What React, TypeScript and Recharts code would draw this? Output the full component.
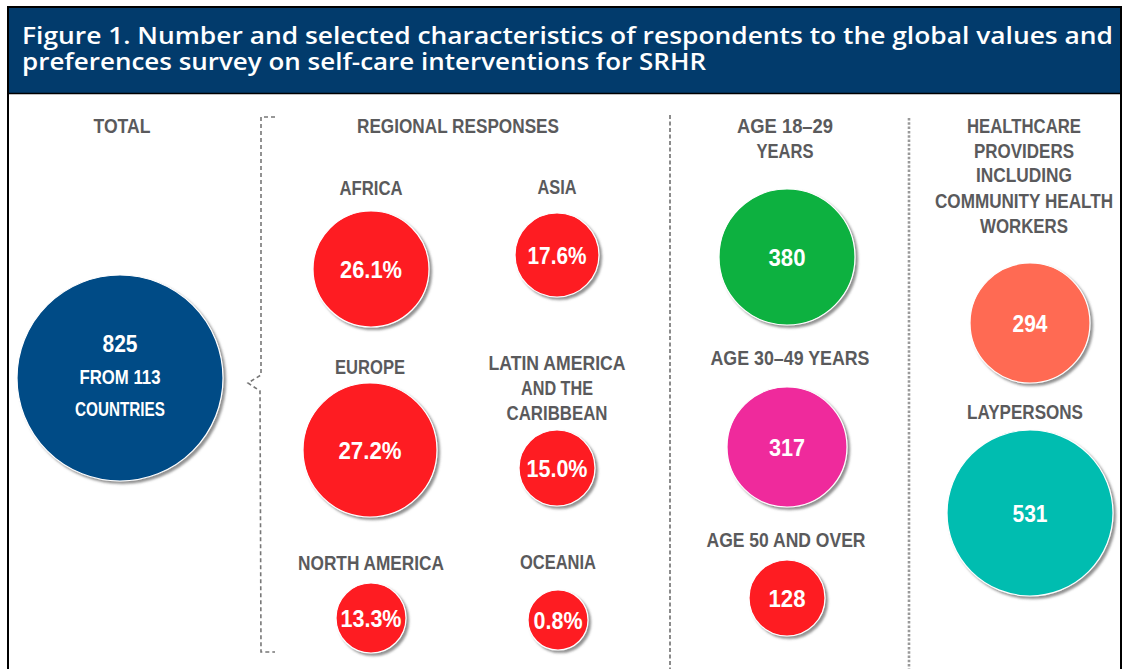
import React from 'react';
import { ScatterChart, Scatter, XAxis, YAxis, ReferenceLine, Customized } from 'recharts';

const CHART_W = 1125;
const CHART_H = 669;

// ---------------- data ----------------
const titleLines = [
  'Figure 1. Number and selected characteristics of respondents to the global values and',
  'preferences survey on self-care interventions for SRHR',
];
const sectionTitles = ['TOTAL', 'REGIONAL RESPONSES'];

const totalRespondents = 825;
const totalCountries = 113;

const regionNames = ['AFRICA', 'ASIA', 'EUROPE', 'LATIN AMERICA AND THE CARIBBEAN', 'NORTH AMERICA', 'OCEANIA'];
const regionShares = [26.1, 17.6, 27.2, 15.0, 13.3, 0.8];

const ageGroups = ['AGE 18–29 YEARS', 'AGE 30–49 YEARS', 'AGE 50 AND OVER'];
const ageCounts = [380, 317, 128];

const roleGroups = ['HEALTHCARE PROVIDERS INCLUDING COMMUNITY HEALTH WORKERS', 'LAYPERSONS'];
const roleCounts = [294, 531];

// ---------------- layout / style (kept apart from data) ----------------
const LABEL_FONT = '"Liberation Sans", Arial, sans-serif';
const TITLE_FONT = '"Open Sans", "Noto Sans", sans-serif';
const LABEL_COLOR = '#5a5a5c';

// rendered widths of texts in the reference (px), used to condense the glyphs
const textWidths: Record<string, number> = {
  TOTAL: 57,
  'REGIONAL RESPONSES': 202,
  AFRICA: 63,
  ASIA: 39,
  EUROPE: 70,
  'LATIN AMERICA': 137,
  'AND THE': 72,
  CARIBBEAN: 101,
  'NORTH AMERICA': 146,
  OCEANIA: 76,
  'AGE 18–29': 96,
  YEARS: 57,
  'AGE 30–49 YEARS': 159,
  'AGE 50 AND OVER': 159,
  HEALTHCARE: 114,
  PROVIDERS: 100,
  INCLUDING: 96,
  'COMMUNITY HEALTH': 178,
  WORKERS: 88,
  LAYPERSONS: 116,
  '26.1%': 62,
  '17.6%': 59,
  '27.2%': 63,
  '15.0%': 61,
  '13.3%': 61,
  '0.8%': 49,
  '380': 37,
  '317': 36,
  '128': 37,
  '294': 35,
  '531': 35,
  '825': 35,
  'FROM 113': 81,
  COUNTRIES: 90,
};

const regionLabelLines = [['AFRICA'], ['ASIA'], ['EUROPE'], ['LATIN AMERICA', 'AND THE', 'CARIBBEAN'], ['NORTH AMERICA'], ['OCEANIA']];
const regionLayout = [
  { x: 371, y: 269, r: 58, labelY: [195] },
  { x: 557, y: 255, r: 42, labelY: [194] },
  { x: 370, y: 450, r: 67, labelY: [374] },
  { x: 557, y: 468, r: 38, labelY: [370, 395, 420] },
  { x: 371, y: 618, r: 35, labelY: [570] },
  { x: 558, y: 620, r: 30, labelY: [569] },
];

const ageLabelLines = [['AGE 18–29', 'YEARS'], ['AGE 30–49 YEARS'], ['AGE 50 AND OVER']];
const ageLayout = [
  { x: 787, y: 257, r: 68, labelX: 785, labelY: [133, 158] },
  { x: 787, y: 447, r: 60, labelX: 790, labelY: [365] },
  { x: 787, y: 598, r: 38, labelX: 786, labelY: [547] },
];
const ageColors = ['#0bb13f', '#ef2b9c', '#fe1a24'];

const roleLabelLines = [['HEALTHCARE', 'PROVIDERS', 'INCLUDING', 'COMMUNITY HEALTH', 'WORKERS'], ['LAYPERSONS']];
const roleLayout = [
  { x: 1030, y: 323, r: 60, labelX: 1024, labelY: [133, 158, 182, 208, 233] },
  { x: 1030, y: 513, r: 83, labelX: 1025, labelY: [419] },
];
const roleColors = ['#ff6a52', '#00bdb0'];

const totalLayout = { x: 120, y: 378, r: 103 };
const sectionLayout = [
  { x: 122, y: 133 },
  { x: 458, y: 133 },
];

// ---------------- tables built from the arrays ----------------
type BubbleRow = { name: string; x: number; y: number; r: number; fill: string; lines: string[]; dy: number[]; sizes: number[] };

const totalBubble: BubbleRow[] = [
  {
    name: 'TOTAL',
    x: totalLayout.x,
    y: totalLayout.y,
    r: totalLayout.r,
    fill: '#024b86',
    lines: [String(totalRespondents), `FROM ${totalCountries}`, 'COUNTRIES'],
    dy: [-26, 6, 38],
    sizes: [24, 20, 20],
  },
];

const regionBubbles: BubbleRow[] = regionNames.map((n, i) => ({
  name: n,
  x: regionLayout[i].x,
  y: regionLayout[i].y,
  r: regionLayout[i].r,
  fill: '#fe1a24',
  lines: [`${regionShares[i].toFixed(1)}%`],
  dy: [9],
  sizes: [24],
}));

const ageBubbles: BubbleRow[] = ageGroups.map((n, i) => ({
  name: n,
  x: ageLayout[i].x,
  y: ageLayout[i].y,
  r: ageLayout[i].r,
  fill: ageColors[i],
  lines: [String(ageCounts[i])],
  dy: [9],
  sizes: [24],
}));

const roleBubbles: BubbleRow[] = roleGroups.map((n, i) => ({
  name: n,
  x: roleLayout[i].x,
  y: roleLayout[i].y,
  r: roleLayout[i].r,
  fill: roleColors[i],
  lines: [String(roleCounts[i])],
  dy: [9],
  sizes: [24],
}));

type LabelRow = { x: number; y: number; text: string };
const labelRows: LabelRow[] = [
  ...sectionTitles.map((t, i) => ({ x: sectionLayout[i].x, y: sectionLayout[i].y, text: t })),
  ...regionLabelLines.flatMap((lines, i) => lines.map((t, j) => ({ x: regionLayout[i].x, y: regionLayout[i].labelY[j], text: t }))),
  ...ageLabelLines.flatMap((lines, i) => lines.map((t, j) => ({ x: ageLayout[i].labelX, y: ageLayout[i].labelY[j], text: t }))),
  ...roleLabelLines.flatMap((lines, i) => lines.map((t, j) => ({ x: roleLayout[i].labelX, y: roleLayout[i].labelY[j], text: t }))),
];

// ---------------- shapes ----------------
const fitProps = (t: string) =>
  textWidths[t] ? { textLength: textWidths[t], lengthAdjust: 'spacingAndGlyphs' as const } : {};

const BubbleShape = (props: any) => {
  const { cx, cy, payload } = props;
  if (cx == null || cy == null) return null;
  return (
    <g>
      <circle cx={cx} cy={cy} r={payload.r} fill={payload.fill} stroke="#ffffff" strokeWidth={1.2} filter="url(#bubbleShadow)" />
      {payload.lines.map((t: string, i: number) => (
        <text
          key={i}
          x={cx}
          y={cy + payload.dy[i]}
          textAnchor="middle"
          fill="#ffffff"
          fontFamily={LABEL_FONT}
          fontWeight="bold"
          fontSize={payload.sizes[i]}
          {...fitProps(t)}
        >
          {t}
        </text>
      ))}
    </g>
  );
};

const LabelShape = (props: any) => {
  const { cx, cy, payload } = props;
  if (cx == null || cy == null) return null;
  return (
    <text
      x={cx}
      y={cy}
      textAnchor="middle"
      fill={LABEL_COLOR}
      fontFamily={LABEL_FONT}
      fontWeight="bold"
      fontSize={20}
      {...fitProps(payload.text)}
    >
      {payload.text}
    </text>
  );
};

const Decorations = () => (
  <g>
    <defs>
      <filter id="bubbleShadow" x="-20%" y="-20%" width="150%" height="150%">
        <feDropShadow dx="2.5" dy="2.5" stdDeviation="1.3" floodColor="#6d6d6d" floodOpacity="0.75" />
      </filter>
    </defs>
    <rect x={8} y={7} width={1113} height={87} fill="#023b6c" />
    <line x1={8} y1={93.5} x2={1121} y2={93.5} stroke="#000" strokeWidth={1.5} />
    <rect x={8} y={7} width={1113} height={700} fill="none" stroke="#000" strokeWidth={2} />
    <text x={22} y={44} fill="#ffffff" fontFamily={TITLE_FONT} fontWeight={600} fontSize={24} textLength={1091} lengthAdjust="spacingAndGlyphs">
      {titleLines[0]}
    </text>
    <text x={22} y={70} fill="#ffffff" fontFamily={TITLE_FONT} fontWeight={600} fontSize={24} textLength={684} lengthAdjust="spacingAndGlyphs">
      {titleLines[1]}
    </text>
    <path
      d="M275 117 L261 117 L261 375 L248 383 L260 391 L261 652 L275 652"
      fill="none"
      stroke="#777"
      strokeWidth={1.6}
      strokeDasharray="4 3"
    />
  </g>
);

export default function App() {
  return (
    <div style={{ position: 'absolute', left: 0, top: 0, width: CHART_W, height: CHART_H, background: '#ffffff' }}>
      <ScatterChart width={CHART_W} height={CHART_H} margin={{ top: 0, right: 0, bottom: 0, left: 0 }}>
        <XAxis type="number" dataKey="x" domain={[0, CHART_W]} hide allowDataOverflow />
        <YAxis type="number" dataKey="y" domain={[0, CHART_H]} hide reversed allowDataOverflow />
        <Customized component={Decorations} />
        <ReferenceLine segment={[{ x: 670, y: 115 }, { x: 670, y: CHART_H }]} stroke="#666" strokeWidth={1.5} strokeDasharray="4 2.5" />
        <ReferenceLine segment={[{ x: 909, y: 118 }, { x: 909, y: CHART_H }]} stroke="#9a9a9a" strokeWidth={2.6} strokeDasharray="2.5 1.8" />
        <Scatter name="total" data={totalBubble} shape={BubbleShape} isAnimationActive={false} />
        <Scatter name="regions" data={regionBubbles} shape={BubbleShape} isAnimationActive={false} />
        <Scatter name="ages" data={ageBubbles} shape={BubbleShape} isAnimationActive={false} />
        <Scatter name="roles" data={roleBubbles} shape={BubbleShape} isAnimationActive={false} />
        <Scatter name="labels" data={labelRows} shape={LabelShape} isAnimationActive={false} />
      </ScatterChart>
    </div>
  );
}
